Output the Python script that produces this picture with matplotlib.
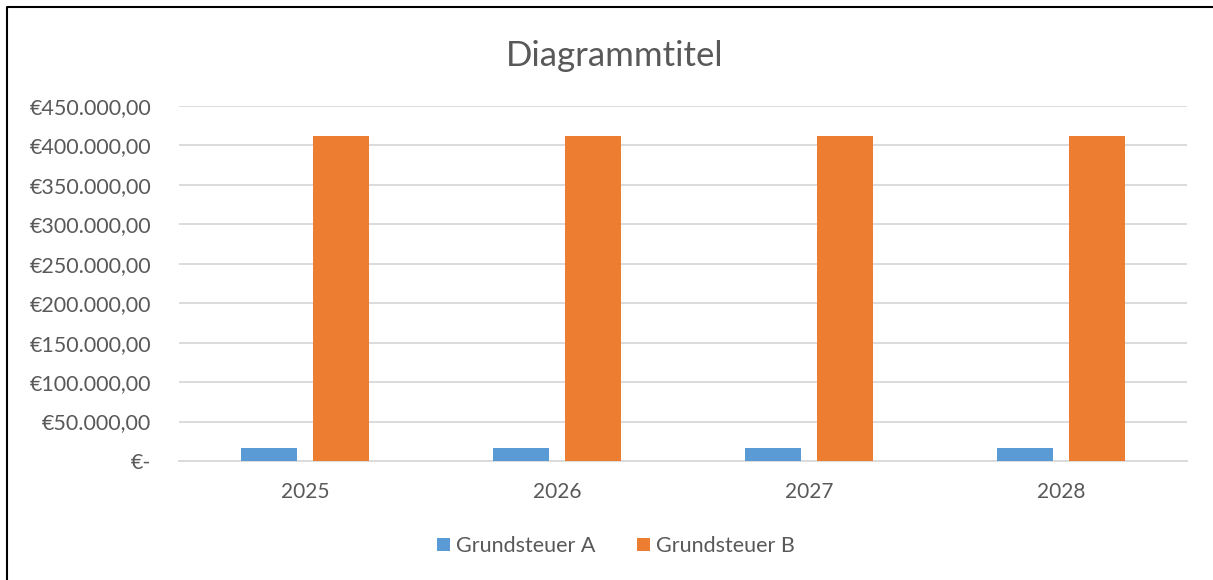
import numpy as np
import matplotlib.pyplot as plt
from matplotlib.lines import Line2D

plt.rcParams['font.family'] = ['Lato', 'DejaVu Sans']

years = ['2025', '2026', '2027', '2028']
grundsteuer_a = [16500, 16500, 16500, 16500]
grundsteuer_b = [412000, 412000, 412000, 412000]
yticks = [0, 50000, 100000, 150000, 200000, 250000, 300000, 350000, 400000, 450000]

BLUE = '#5B9BD5'
ORANGE = '#ED7D31'
TXT = '#595959'
GRID = '#D9D9D9'


def euro(v):
    if v == 0:
        return '€-'
    s = f'{v:,.2f}'
    s = s.replace(',', 'X').replace('.', ',').replace('X', '.')
    return '€' + s


fig = plt.figure(figsize=(12.13, 5.80), dpi=100)
ax = fig.add_axes([179 / 1213, 1 - 461 / 580, 1008 / 1213, 355 / 580])

x = np.arange(len(years))
w = 0.222
ax.bar(x - 0.143, grundsteuer_a, w, color=BLUE, label='Grundsteuer A', zorder=3)
ax.bar(x + 0.141, grundsteuer_b, w, color=ORANGE, label='Grundsteuer B', zorder=3)

ax.set_xlim(-0.5, len(years) - 0.5)
ax.set_ylim(0, 450000)
ax.set_yticks(yticks)
ax.set_yticklabels([euro(v) for v in yticks], color=TXT, fontsize=15.5)
ax.set_xticks(x)
ax.set_xticklabels(years, color=TXT, fontsize=15)
ax.tick_params(axis='both', length=0)
ax.tick_params(axis='y', pad=20)
ax.tick_params(axis='x', pad=15)
ax.grid(axis='y', color=GRID, linewidth=1.3, zorder=0)
for s in ['top', 'right', 'left']:
    ax.spines[s].set_visible(False)
ax.spines['bottom'].set_color(GRID)
ax.spines['bottom'].set_linewidth(1.3)

fig.text(615 / 1213, 1 - 56 / 580, 'Diagrammtitel', ha='center', va='center',
         fontsize=25, color=TXT)

fig.legend(loc='center', bbox_to_anchor=(616 / 1213, 1 - 546 / 580), ncol=2,
           frameon=False, fontsize=15.5, labelcolor=TXT, handlelength=0.6,
           handleheight=0.6, handletextpad=0.3, columnspacing=1.9)

# chart frame (top and left edges visible in the image)
fig.add_artist(Line2D([7 / 1213, 7 / 1213, 1], [0, 1 - 7 / 580, 1 - 7 / 580],
                      transform=fig.transFigure, color='black', linewidth=1.5))

fig.savefig('out.png', dpi=100)
